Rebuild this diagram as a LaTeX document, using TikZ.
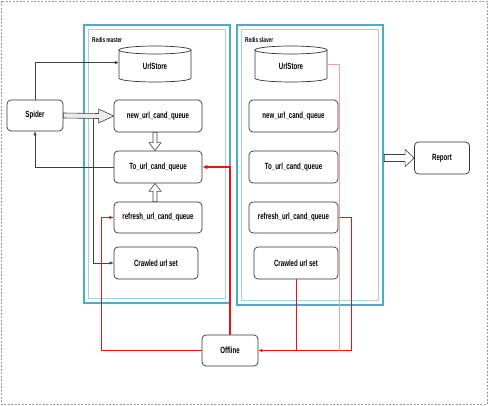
\documentclass[tikz,border=0pt]{standalone}
\usepackage{fontspec}
\setmainfont{Liberation Sans}[FakeStretch=0.68]
\usetikzlibrary{calc,arrows.meta}
\definecolor{teal1}{RGB}{75,172,198}
\definecolor{teal2}{RGB}{160,210,225}
\definecolor{red1}{RGB}{230,20,20}
\definecolor{pink1}{RGB}{240,160,160}
\definecolor{frame1}{RGB}{150,150,185}
\tikzset{
  box/.style={draw=black!80,line width=0.7pt,rounded corners=4pt,fill=white,
    font=\fontsize{9}{10}\selectfont\bfseries,inner sep=0pt},
  group/.style={draw=teal1,line width=2.4pt,inner sep=0pt},
  grouplbl/.style={font=\fontsize{7}{8}\selectfont\bfseries,anchor=west,inner sep=0pt},
  cyl/.style={font=\fontsize{9}{10}\selectfont\bfseries,inner sep=0pt},
  conn/.style={draw=black!75,line width=0.6pt,-{Latex[length=4pt,width=3.5pt]}},
  redthick/.style={draw=red1,line width=1.2pt,-{Latex[length=5pt,width=4.5pt]}},
  redthin/.style={draw=red1,line width=0.6pt,-{Latex[length=4pt,width=3.5pt]}},
  redline/.style={draw=red1,line width=0.6pt},
  pinkline/.style={draw=pink1,line width=0.6pt},
  harrow/.style={draw=black!75,line width=0.6pt,fill=black!8},
}
\begin{document}
\begin{tikzpicture}[x=1pt,y=-1pt]
\useasboundingbox (0,0) rectangle (489,406);
\draw[frame1,line width=0.6pt,dash pattern=on 2pt off 1.5pt] (1,1) rectangle (487,404);

% group boxes
\node[group,minimum width=146,minimum height=278] (master) at (157,164) {};
\draw[teal2,line width=0.6pt] (88.5,29.5) rectangle (225.5,298.5);
\node[group,minimum width=146,minimum height=280] (slaver) at (310,165) {};
\draw[teal2,line width=0.6pt] (241.5,29.5) rectangle (378.5,300.5);
\node[grouplbl] (lm) at (92,40) {Redis master};
\node[grouplbl] (ls) at (245,40) {Redis slaver};

% cylinders
\foreach \n/\cx in {usm/155,uss/291}{
  \node[cyl,minimum width=72,minimum height=36] (\n) at (\cx,64) {};
  \fill[white] (\cx-36,50) -- (\cx-36,78) .. controls (\cx-36,83.3) and (\cx+36,83.3) .. (\cx+36,78) -- (\cx+36,50) -- cycle;
  \draw[black!80,line width=0.7pt] (\cx-36,50) -- (\cx-36,78) .. controls (\cx-36,83.3) and (\cx+36,83.3) .. (\cx+36,78) -- (\cx+36,50);
  \draw[black!80,line width=0.7pt,fill=white] (\cx,50) ellipse (36 and 4);
  \node[cyl] at (\cx,66) {UrlStore};
}

% boxes
\node[box,minimum width=56,minimum height=31] (spider) at (35,115.5) {Spider};
\node[box,minimum width=88,minimum height=32] (newm) at (158,116) {new\_url\_cand\_queue};
\node[box,minimum width=88,minimum height=32] (tom) at (158,167) {To\_url\_cand\_queue};
\node[box,minimum width=88,minimum height=31] (refm) at (158,217.5) {refresh\_url\_cand\_queue};
\node[box,minimum width=84,minimum height=32] (crwm) at (156,263) {Crawled url set};
\node[box,minimum width=89,minimum height=32] (news) at (293.5,116) {new\_url\_cand\_queue};
\node[box,minimum width=89,minimum height=32] (tos) at (293.5,167) {To\_url\_cand\_queue};
\node[box,minimum width=89,minimum height=31] (refs) at (293.5,217.5) {refresh\_url\_cand\_queue};
\node[box,minimum width=84,minimum height=32] (crws) at (296,263) {Crawled url set};
\node[box,minimum width=55,minimum height=32] (report) at (442,158) {Report};
\node[box,minimum width=56,minimum height=31] (offline) at (230,350.5) {Offline};

% hollow arrows
\filldraw[harrow] ($(spider.east)+(0,-2.5)$) -- ($(newm.west)+(-15,-2.5)$) -- ($(newm.west)+(-15,-7)$)
  -- (newm.west) -- ($(newm.west)+(-15,7)$) -- ($(newm.west)+(-15,2.5)$) -- ($(spider.east)+(0,2.5)$) -- cycle;
\filldraw[harrow,fill=white] ($(newm.south)+(-5,0)$) -- ($(tom.north)+(-5,-8)$) -- ($(tom.north)+(-9,-8)$)
  -- ($(tom.north)+(-3,0)$) -- ($(tom.north)+(3,-8)$) -- ($(tom.north)+(-1,-8)$) -- ($(newm.south)+(-1,0)$) -- cycle;
\filldraw[harrow,fill=white] ($(refm.north)+(-5,0)$) -- ($(tom.south)+(-5,8)$) -- ($(tom.south)+(-9,8)$)
  -- ($(tom.south)+(-3,0)$) -- ($(tom.south)+(3,8)$) -- ($(tom.south)+(-1,8)$) -- ($(refm.north)+(-1,0)$) -- cycle;
\coordinate (rp) at (report.west);
\filldraw[harrow,fill=white] ($(slaver.east|-rp)+(0,-3.5)$) -- ($(rp)+(-9,-3.5)$) -- ($(rp)+(-9,-8.5)$)
  -- (rp) -- ($(rp)+(-9,8.5)$) -- ($(rp)+(-9,3.5)$) -- ($(slaver.east|-rp)+(0,3.5)$) -- cycle;

% black connectors
\coordinate (sp1) at ($(spider.north)+(0,-37)$);
\draw[conn] (spider.north) -- (sp1) -- (sp1-|usm.west);
\draw[conn] (tom.west) -| (spider.south);
\coordinate (tap) at (93,118);
\draw[conn] (tap) |- (crwm.west);

% red connectors
\draw[redthick] (offline.north) |- (tom.east);
\coordinate (rl) at (101,350.5);
\draw[redthin] (offline.west) -- (rl) |- (refm.west);
\coordinate (rr) at (351,350.5);
\draw[redthin] (refs.east) -| (rr) -- (offline.east);
\draw[redline] (crws.south) -- (crws.south|-rr);
\coordinate (pk) at (339,350.5);
\draw[pinkline] (uss.east) -| (pk);
\end{tikzpicture}
\end{document}
